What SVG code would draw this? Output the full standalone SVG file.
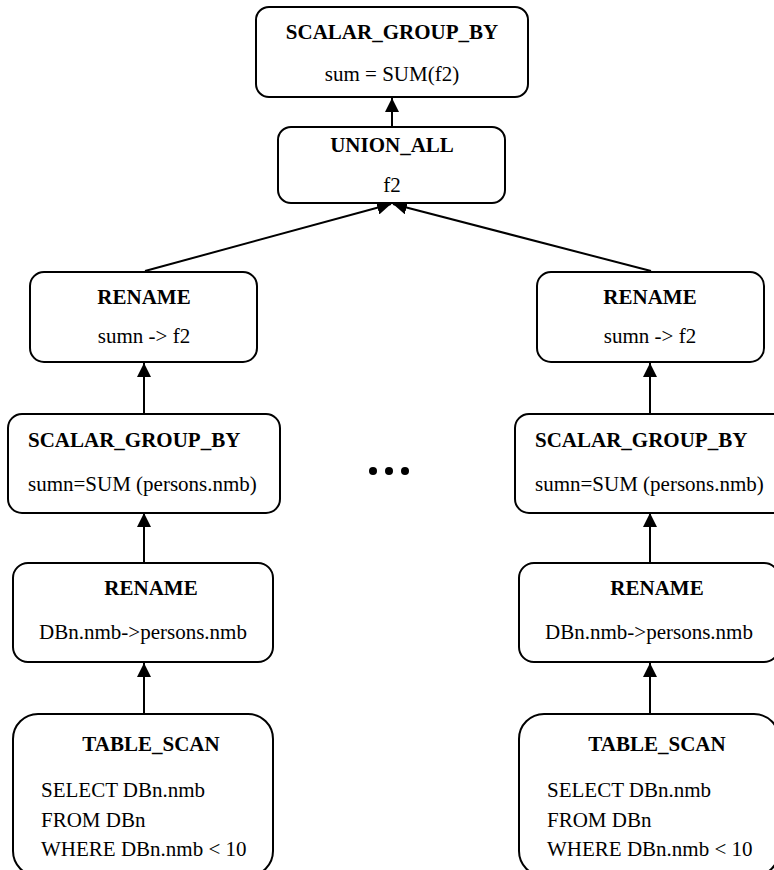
<svg xmlns="http://www.w3.org/2000/svg" width="774" height="870" viewBox="0 0 774 870">
<defs>
<marker id="ah" viewBox="0 0 14 14" refX="14" refY="7" markerWidth="14" markerHeight="14" markerUnits="userSpaceOnUse" orient="auto">
<path d="M0,0 L14,7 L0,14 Z" fill="#000"/>
</marker>
<style>
.box{fill:#fff;stroke:#000;stroke-width:2}
.t{font-family:'Liberation Serif',Tinos,'Times New Roman',Times,'Noto Serif','DejaVu Serif',serif;font-size:21px;fill:#000}
.b{font-weight:bold}
.m{text-anchor:middle}
.e{stroke:#000;stroke-width:2;fill:none;marker-end:url(#ah)}
</style>
</defs>
<rect width="774" height="870" fill="#fff"/>
<g id="connectors">
<line class="e" x1="392" y1="127" x2="392" y2="98"/>
<line class="e" x1="145" y1="271" x2="391" y2="204"/>
<line class="e" x1="651" y1="271" x2="393" y2="204"/>
<line class="e" x1="144" y1="414" x2="144" y2="363"/>
<line class="e" x1="144" y1="563" x2="144" y2="513"/>
<line class="e" x1="144" y1="714" x2="144" y2="663"/>
<line class="e" x1="650" y1="414" x2="650" y2="363"/>
<line class="e" x1="650" y1="563" x2="650" y2="513"/>
<line class="e" x1="650" y1="714" x2="650" y2="663"/>
</g>
<g id="top_sgb">
<rect class="box" x="256" y="7" width="272" height="90" rx="13"/>
<text class="t b m" x="392" y="39" font-family="Liberation Serif, serif">SCALAR_GROUP_BY</text>
<text class="t m" x="392" y="81" font-family="Liberation Serif, serif">sum = SUM(f2)</text>
</g>
<g id="union_all">
<rect class="box" x="278" y="127" width="227" height="76" rx="13"/>
<text class="t b m" x="392" y="152">UNION_ALL</text>
<text class="t m" x="392" y="192">f2</text>
</g>
<g id="rename_l">
<rect class="box" x="30" y="272" width="227" height="90" rx="14"/>
<text class="t b m" x="144" y="304">RENAME</text>
<text class="t m" x="144" y="343">sumn -&gt; f2</text>
</g>
<g id="rename_r">
<rect class="box" x="537" y="272" width="227" height="90" rx="14"/>
<text class="t b m" x="650" y="304">RENAME</text>
<text class="t m" x="650" y="343">sumn -&gt; f2</text>
</g>
<g id="sgb_l">
<rect class="box" x="8" y="414" width="272" height="99" rx="14"/>
<text class="t b" x="28" y="447">SCALAR_GROUP_BY</text>
<text class="t" x="28" y="491">sumn=SUM (persons.nmb)</text>
</g>
<g id="sgb_r">
<rect class="box" x="515" y="414" width="272" height="99" rx="14"/>
<text class="t b" x="535" y="447">SCALAR_GROUP_BY</text>
<text class="t" x="535" y="491">sumn=SUM (persons.nmb)</text>
</g>
<g id="rename2_l">
<rect class="box" x="13" y="563" width="260" height="99" rx="15"/>
<text class="t b m" x="151" y="595">RENAME</text>
<text class="t m" x="143" y="639">DBn.nmb-&gt;persons.nmb</text>
</g>
<g id="rename2_r">
<rect class="box" x="519" y="563" width="260" height="99" rx="15"/>
<text class="t b m" x="657" y="595">RENAME</text>
<text class="t m" x="649" y="639">DBn.nmb-&gt;persons.nmb</text>
</g>
<g id="ts_l">
<rect class="box" x="13" y="714" width="260" height="162" rx="25"/>
<text class="t b m" x="151" y="751">TABLE_SCAN</text>
<text class="t" x="41" y="797">SELECT DBn.nmb</text>
<text class="t" x="41" y="827">FROM DBn</text>
<text class="t" x="41" y="856">WHERE DBn.nmb &lt; 10</text>
</g>
<g id="ts_r">
<rect class="box" x="519" y="714" width="260" height="162" rx="25"/>
<text class="t b m" x="657" y="751">TABLE_SCAN</text>
<text class="t" x="547" y="797">SELECT DBn.nmb</text>
<text class="t" x="547" y="827">FROM DBn</text>
<text class="t" x="547" y="856">WHERE DBn.nmb &lt; 10</text>
</g>
<g id="ellipsis">
<circle cx="373" cy="471" r="4"/>
<circle cx="389" cy="471" r="4"/>
<circle cx="405" cy="471" r="4"/>
</g>
</svg>
